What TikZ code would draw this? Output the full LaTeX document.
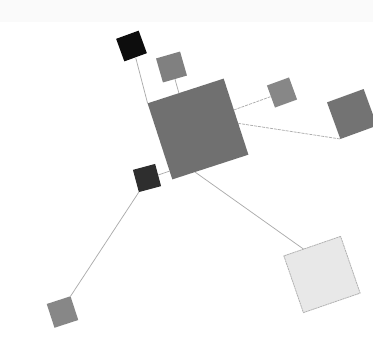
\documentclass[tikz,border=0pt]{standalone}
\begin{document}
\begin{tikzpicture}[x=1pt,y=-1pt,
  sq/.style={inner sep=0pt, outer sep=0pt, minimum size=#1},
  link/.style={draw=gray!65, line width=0.75pt},
  dlink/.style={draw=gray!65, line width=0.75pt, dash pattern=on 3pt off 1pt}]
\useasboundingbox (0,0) rectangle (373,338);
\fill[gray!4] (0,0) rectangle (373,22);
\node[sq=80pt, fill=black!56, rotate=18] (big) at (198,129) {};
\node[sq=24pt, fill=black!95, rotate=20] (blk) at (131.5,46) {};
\node[sq=25pt, fill=black!50, rotate=16] (top) at (171.5,67) {};
\node[sq=23.5pt, fill=black!47, rotate=20] (rs) at (282,92.5) {};
\node[sq=39pt, fill=black!55, rotate=20] (rb) at (352,114) {};
\node[sq=23pt, fill=black!82, rotate=15] (dk) at (147,178) {};
\node[sq=25pt, fill=black!47, rotate=18] (bl) at (62.5,312) {};
\node[sq=60pt, fill=gray!18, draw=gray!60, line width=0.8pt, dash pattern=on 2pt off 0.6pt, rotate=19] (lt) at (322,274.5) {};
\draw[link] (blk.south) -- (big.north west);
\draw[link] (top.south) -- (big.100);
\draw[dlink] (big.10) -- (rs.west);
\draw[dlink] (big.350) -- (rb.south west);
\draw[link] (big.248) -- (lt.107);
\draw[link] (dk.east) -- (big.218);
\draw[link] (dk.south west) -- (bl.north east);
\end{tikzpicture}
\end{document}
